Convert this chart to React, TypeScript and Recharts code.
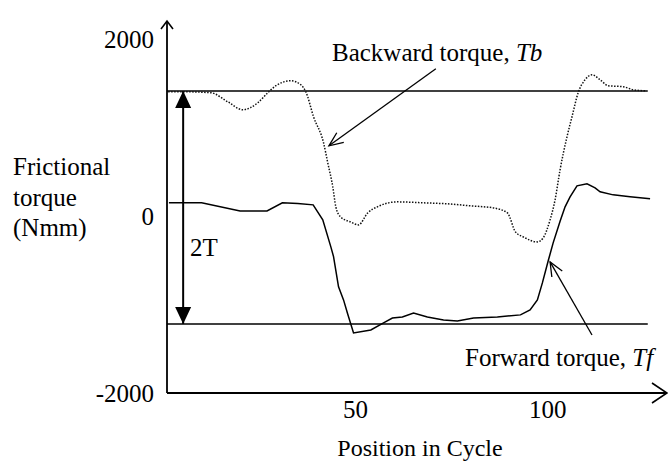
import { LineChart, Line, XAxis, YAxis, ReferenceLine, Customized } from "recharts";

// forward torque (solid)
const tfPos = [1.5, 10, 20, 27, 31, 35, 39, 41.5, 43.6, 44.3, 45.6, 46.9, 48, 49.5, 54, 57.3, 59.6, 62.2, 65.1, 68.7, 72.9, 76.5, 80.7, 86.9, 92.9, 95.4, 97.3, 98.6, 100.1, 101.4, 103.2, 104.5, 105.8, 107.6, 110.2, 112.3, 113.6, 117, 121.4, 126.6];
const tfVal = [147, 147, 56, 56, 147, 140, 124, -45, -350, -460, -802, -949, -1110, -1322, -1288, -1209, -1153, -1141, -1096, -1141, -1175, -1186, -1153, -1141, -1118, -1062, -949, -757, -510, -305, -60, 102, 215, 339, 361, 316, 271, 237, 215, 192];

// backward torque (dotted)
const tbPos = [1.3, 5.4, 12.4, 16.8, 20.7, 24.6, 27.2, 29.3, 33.2, 35.8, 37.1, 39.1, 41.7, 42.8, 44.1, 44.9, 46.1, 48.7, 50.8, 53.2, 55.7, 60.9, 67.7, 73.9, 79.9, 85.8, 89.5, 91.6, 93.6, 97.3, 98.8, 100.6, 101.9, 103.2, 105, 106.3, 107.9, 109.7, 111.5, 113.6, 115.7, 119.6, 122.2, 125.3];
const tbVal = [1401, 1401, 1390, 1288, 1198, 1277, 1390, 1469, 1525, 1480, 1401, 1119, 825, 599, 328, 102, -11, -68, -102, 34, 102, 158, 147, 136, 113, 90, 34, -181, -237, -294, -249, -45, 181, 520, 893, 1119, 1390, 1537, 1593, 1537, 1469, 1458, 1424, 1412];

const xTicks = [50, 100];
const yTicks = [-2000, 0, 2000];
const xDomain = [1, 131];
const yDomain = [-2000, 2200];

// +T / -T levels and the annotation arrows
const tUpper = 1410;
const tLower = -1220;
const levelStart = 1;
const levelEnd = 126;
const twoTPos = 5.2;
const backwardPointer = [{ x: 70.9, y: 1661 }, { x: 43.1, y: 791 }];
const forwardPointer = [{ x: 111.5, y: -1345 }, { x: 100.6, y: -520 }];

const tfData = tfPos.map((pos, i) => ({ pos, tf: tfVal[i] }));
const tbData = tbPos.map((pos, i) => ({ pos, tb: tbVal[i] }));

const font = "'Liberation Serif', 'Times New Roman', serif";

// chart layout
const W = 660;
const H = 457;
const margin = { top: 13, right: 1, bottom: 0, left: 0 };
const yAxisWidth = 159;
const xAxisHeight = 72;
const plotLeft = margin.left + yAxisWidth;
const plotRight = W - margin.right;
const plotTop = margin.top;
const plotBottom = H - margin.bottom - xAxisHeight;

function Annotations() {
  return (
    <g>
      {/* axis arrow heads */}
      <path
        d={`M${plotLeft - 6},${plotTop + 8} L${plotLeft},${plotTop} L${plotLeft + 6},${plotTop + 8}`}
        fill="none"
        stroke="#000"
        strokeWidth={1.6}
      />
      <path
        d={`M${plotRight - 15},${plotBottom - 10} L${plotRight},${plotBottom} L${plotRight - 15},${plotBottom + 10}`}
        fill="none"
        stroke="#000"
        strokeWidth={1.6}
      />
      <g fontFamily={font} fontSize={25} fill="#000">
        <text x={5} y={167}>Frictional</text>
        <text x={5} y={197.5}>torque</text>
        <text x={5} y={228}>(Nmm)</text>
        <text x={324} y={53}>
          Backward torque, <tspan fontStyle="italic">Tb</tspan>
        </text>
        <text x={457} y={358}>
          Forward torque, <tspan fontStyle="italic">Tf</tspan>
        </text>
        <text x={182} y={248}>2T</text>
      </g>
    </g>
  );
}

// arrow head drawn at (x, y), pointing away from (fx, fy)
function head(x: number, y: number, fx: number, fy: number, d: string, filled: boolean, w = 1.5) {
  const angle = (Math.atan2(y - fy, x - fx) * 180) / Math.PI;
  return (
    <path
      transform={`translate(${x},${y}) rotate(${angle})`}
      d={d}
      fill={filled ? "#000" : "none"}
      stroke={filled ? "none" : "#000"}
      strokeWidth={w}
    />
  );
}

const plainLine = (p: any) => (
  <line x1={p.x1} y1={p.y1} x2={p.x2} y2={p.y2} stroke="#000" strokeWidth={1.5} />
);
const doubleArrow = (p: any) => (
  <g>
    <line x1={p.x1} y1={p.y1} x2={p.x2} y2={p.y2} stroke="#000" strokeWidth={2} />
    {head(p.x1, p.y1, p.x2, p.y2, "M-17,-8 L0,0 L-17,8 Z", true)}
    {head(p.x2, p.y2, p.x1, p.y1, "M-17,-8 L0,0 L-17,8 Z", true)}
  </g>
);
const pointer = (p: any) => (
  <g>
    <line x1={p.x1} y1={p.y1} x2={p.x2} y2={p.y2} stroke="#000" strokeWidth={1.3} />
    {head(p.x2, p.y2, p.x1, p.y1, "M-14,-6 L0,0 L-14,6", false, 1.3)}
  </g>
);

export default function App() {
  return (
    <div style={{ position: "absolute", left: 8, top: 8, fontFamily: font, background: "#fff" }}>
      <LineChart width={W} height={H} margin={margin}>
        <XAxis
          type="number"
          dataKey="pos"
          domain={xDomain}
          ticks={xTicks}
          interval={0}
          allowDataOverflow
          height={xAxisHeight}
          axisLine={{ stroke: "#000", strokeWidth: 1.8 }}
          tickLine={false}
          tickSize={0}
          tickMargin={7}
          tick={{ fill: "#000", fontSize: 25, fontFamily: font }}
          label={{ value: "Position in Cycle", position: "insideBottom", offset: 9, dx: 3, fill: "#000", fontSize: 24, fontFamily: font }}
        />
        <YAxis
          type="number"
          domain={yDomain}
          ticks={yTicks}
          interval={0}
          allowDataOverflow
          width={yAxisWidth}
          axisLine={{ stroke: "#000", strokeWidth: 1.8 }}
          tickLine={false}
          tickSize={0}
          tickMargin={13}
          tick={{ fill: "#000", fontSize: 25, fontFamily: font }}
        />
        <ReferenceLine segment={[{ x: levelStart, y: tUpper }, { x: levelEnd, y: tUpper }]} shape={plainLine} />
        <ReferenceLine segment={[{ x: levelStart, y: tLower }, { x: levelEnd, y: tLower }]} shape={plainLine} />
        <ReferenceLine segment={[{ x: twoTPos, y: tUpper }, { x: twoTPos, y: tLower }]} shape={doubleArrow} />
        <ReferenceLine segment={backwardPointer} shape={pointer} />
        <ReferenceLine segment={forwardPointer} shape={pointer} />
        <Line
          data={tbData}
          dataKey="tb"
          type="monotone"
          stroke="#111"
          strokeWidth={1.5}
          strokeDasharray="1.5 1.5"
          dot={false}
          activeDot={false}
          isAnimationActive={false}
        />
        <Line
          data={tfData}
          dataKey="tf"
          type="linear"
          stroke="#000"
          strokeWidth={1.5}
          dot={false}
          activeDot={false}
          isAnimationActive={false}
        />
        <Customized component={Annotations} />
      </LineChart>
    </div>
  );
}
